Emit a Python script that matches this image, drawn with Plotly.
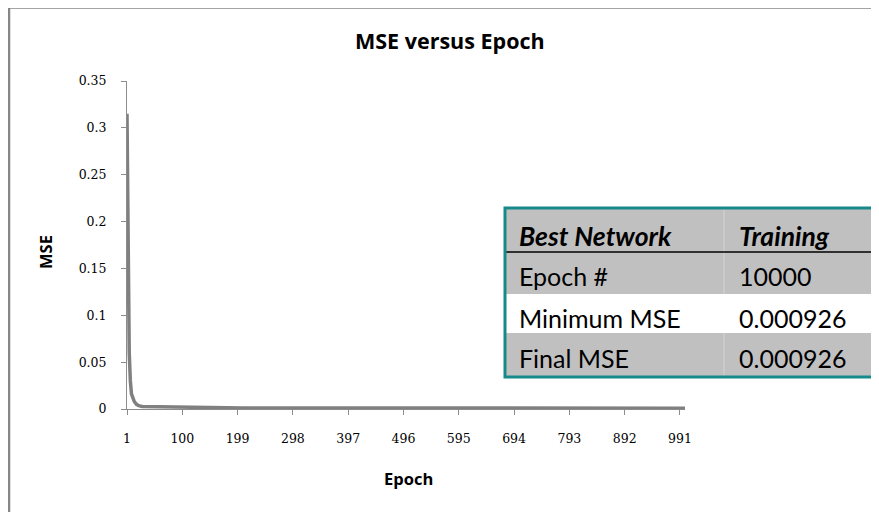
import plotly.graph_objects as go

# ---- data ----
epochs = [1, 2, 3, 4, 5, 7, 9, 11, 14, 18, 22, 28, 65, 66, 208, 209, 1000]
mse = [0.315, 0.22, 0.12, 0.092, 0.06, 0.030, 0.016, 0.013, 0.008, 0.005,
       0.0035, 0.0027, 0.0025, 0.0020, 0.0018, 0.0010, 0.000926]
x_tick_labels = [1, 100, 199, 298, 397, 496, 595, 694, 793, 892, 991]
y_tick_vals = [0, 0.05, 0.1, 0.15, 0.2, 0.25, 0.3, 0.35]
y_tick_text = ["0", "0.05", "0.1", "0.15", "0.2", "0.25", "0.3", "0.35"]
table_header = ["Best Network", "Training"]
table_rows = [["Epoch #", "10000"], ["Minimum MSE", "0.000926"], ["Final MSE", "0.000926"]]

# page body margin offsets the figure by 8px in the window
OFF = 8
WIN_W, WIN_H = 879, 512
W, H = WIN_W - OFF, WIN_H - OFF
L, R, T, B = 127, 685, 81, 409  # plot area in window pixels


def px(x):
    return (x - L) / (R - L)


def py(y):
    return (B - y) / (B - T)


fig = go.Figure()
fig.add_trace(go.Scatter(
    x=epochs, y=mse, mode="lines",
    line=dict(color="#808080", width=3.5),
    hoverinfo="skip", showlegend=False))

axis_color = "#8c8c8c"
tick_font = dict(family="DejaVu Serif", size=12.5, color="#000000")

fig.update_layout(
    width=W, height=H,
    margin=dict(l=L - OFF, r=WIN_W - R, t=T - OFF, b=WIN_H - B, pad=0),
    paper_bgcolor="white", plot_bgcolor="white",
    showlegend=False,
    xaxis=dict(range=[1, 1000], tickvals=x_tick_labels,
               ticktext=[str(v) for v in x_tick_labels],
               showgrid=False, zeroline=False, showline=True,
               linecolor=axis_color, linewidth=1,
               ticks="outside", ticklen=5, tickcolor=axis_color,
               tickfont=tick_font, ticklabelstandoff=13),
    yaxis=dict(range=[0, 0.35], tickvals=y_tick_vals, ticktext=y_tick_text,
               showgrid=False, zeroline=False, showline=True,
               linecolor=axis_color, linewidth=1,
               ticks="outside", ticklen=5, tickcolor=axis_color,
               tickfont=tick_font, ticklabelstandoff=12),
)

shapes = []
annotations = []

# outer chart border (top & left visible)
shapes.append(dict(type="rect", xref="paper", yref="paper",
                   x0=px(9), x1=px(WIN_W + 20), y0=py(7.5), y1=py(WIN_H + 20),
                   line=dict(color="#868686", width=2.5), layer="below"))

title_font = "Open Sans"
annotations.append(dict(text="<b>MSE versus Epoch</b>", xref="paper", yref="paper",
                        x=px(450), y=py(41), showarrow=False,
                        xanchor="center", yanchor="middle",
                        font=dict(family=title_font, size=21.5, color="#000")))
annotations.append(dict(text="<b>Epoch</b>", xref="paper", yref="paper",
                        x=px(408), y=py(478), showarrow=False,
                        xanchor="center", yanchor="middle",
                        font=dict(family=title_font, size=16.5, color="#000")))
annotations.append(dict(text="<b>MSE</b>", xref="paper", yref="paper",
                        x=px(45), y=py(252), showarrow=False, textangle=-90,
                        xanchor="center", yanchor="middle",
                        font=dict(family=title_font, size=16.5, color="#000")))

# table
tx0, tx1 = 505, 873
row_edges = [209, 252, 294, 333, 376]
row_fill = ["#c0c0c0", "#c0c0c0", "#ffffff", "#c0c0c0"]
for i, fill in enumerate(row_fill):
    shapes.append(dict(type="rect", xref="paper", yref="paper",
                       x0=px(tx0), x1=px(tx1), y0=py(row_edges[i]), y1=py(row_edges[i + 1]),
                       fillcolor=fill, line=dict(width=0)))
    if fill != "#ffffff":
        shapes.append(dict(type="line", xref="paper", yref="paper",
                           x0=px(724), x1=px(724), y0=py(row_edges[i]), y1=py(row_edges[i + 1]),
                           line=dict(color="#d4d4d4", width=1)))
shapes.append(dict(type="line", xref="paper", yref="paper",
                   x0=px(tx0), x1=px(tx1), y0=py(252), y1=py(252),
                   line=dict(color="#000000", width=1.5)))
shapes.append(dict(type="rect", xref="paper", yref="paper",
                   x0=px(tx0), x1=px(tx1), y0=py(208), y1=py(377),
                   line=dict(color="#168a8a", width=3)))

col_x = [517, 737]
text_y = [236, 276, 318, 358]
header_font = dict(family="Lato", size=26.5, color="#000")
table_font = dict(family="Lato", size=25, color="#000")
for j, h in enumerate(table_header):
    annotations.append(dict(text="<b><i>%s</i></b>" % h, xref="paper", yref="paper",
                            x=px(col_x[j]), y=py(text_y[0]), showarrow=False,
                            xanchor="left", yanchor="middle", font=header_font))
for i, row in enumerate(table_rows):
    for j, cell in enumerate(row):
        annotations.append(dict(text=cell, xref="paper", yref="paper",
                                x=px(col_x[j]), y=py(text_y[i + 1]), showarrow=False,
                                xanchor="left", yanchor="middle", font=table_font))

fig.update_layout(shapes=shapes, annotations=annotations)
fig.write_html("out.html")
